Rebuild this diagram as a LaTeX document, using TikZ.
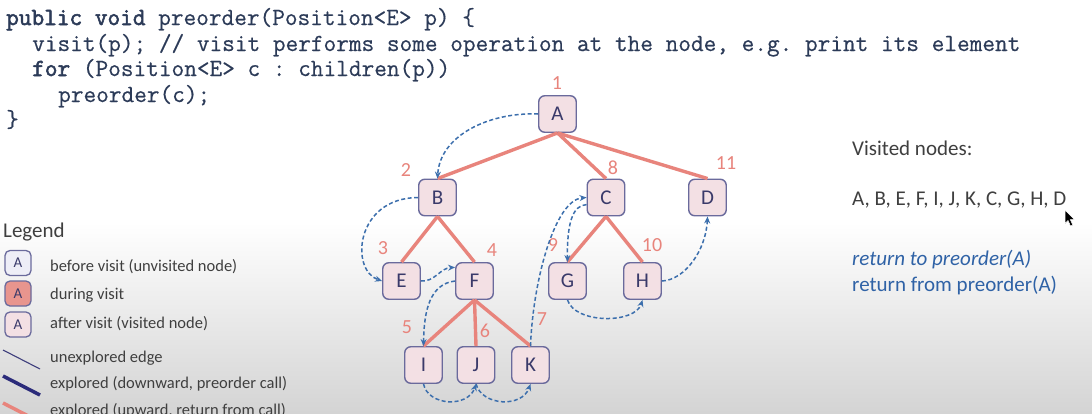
\documentclass[tikz,border=0pt]{standalone}
\usepackage{fontspec}
\setmainfont{Carlito}
\newfontfamily\codefont[FakeBold=0.5, BoldFont={Latin Modern Mono}, BoldFeatures={FakeBold=2.2}]{Latin Modern Mono}
\usetikzlibrary{arrows.meta}
\frenchspacing

\definecolor{codeink}{HTML}{2C3B58}
\definecolor{edgered}{HTML}{E8847C}
\definecolor{callblue}{HTML}{3C6FAD}
\definecolor{nodefill}{HTML}{F3E0E4}
\definecolor{nodeline}{HTML}{6A6A9C}
\definecolor{nodeink}{HTML}{3A3A6A}
\definecolor{freshfill}{HTML}{EEEEF7}
\definecolor{activefill}{HTML}{E8958E}
\definecolor{textgray}{HTML}{3F3F3F}
\definecolor{noteblue}{HTML}{2F62A6}
\definecolor{navyedge}{HTML}{2B2B7A}
\definecolor{thinnavy}{HTML}{3E3E7C}
\definecolor{bggray}{HTML}{D4D4D4}

\tikzset{
  treenode/.style={draw=nodeline, line width=1.4pt, fill=nodefill, rounded corners=6pt,
    minimum width=37.5pt, minimum height=36.5pt, inner sep=0pt, text=nodeink,
    font=\fontsize{21}{21}\selectfont},
  legendbox/.style={draw=nodeline, line width=1.3pt, rounded corners=5pt,
    minimum width=26pt, minimum height=25pt, inner sep=0pt, text=nodeink,
    font=\fontsize{15}{15}\selectfont},
  treeedge/.style={draw=edgered, line width=3.4pt},
  call/.style={draw=callblue, line width=1.5pt, dash pattern=on 4pt off 2.5pt,
    -{Stealth[length=7pt,width=6pt]}},
  order/.style={text=edgered, inner sep=0pt, font=\fontsize{20}{20}\selectfont},
  codeline/.style={anchor=base west, inner sep=0pt, text=codeink,
    font=\codefont\fontsize{24.6}{24.6}\selectfont},
  legendtext/.style={anchor=base west, inner sep=0pt, text=textgray,
    font=\fontsize{16.5}{16.5}\selectfont},
  sidetext/.style={anchor=base west, inner sep=0pt, text=textgray,
    font=\fontsize{21}{21}\selectfont},
}

\begin{document}
\begin{tikzpicture}[x=1pt,y=-1pt]
\useasboundingbox (0,0) rectangle (1092,413);
\clip (0,0) rectangle (1092,413);

% slide background
\fill[white] (0,0) rectangle (1092,413);
\shade[top color=white, bottom color=bggray] (0,222) rectangle (1092,413);

% source code
\node[codeline] (c1) at (6,25)    {\textbf{public void} preorder(Position<E> p) \{};
\node[codeline] (c2) at (32,51)   {visit(p); // visit performs some operation at the node, e.g. print its element};
\node[codeline] (c3) at (32,76)   {\textbf{for} (Position<E> c : children(p))};
\node[codeline] (c4) at (58,102)  {preorder(c);};
\node[codeline] (c5) at (6,127)   {\}};

% tree nodes
\node[treenode] (A) at (557.5,114) {A};
\node[treenode] (B) at (437.5,197.5) {B};
\node[treenode] (C) at (606,197.5) {C};
\node[treenode] (D) at (707.5,197.5) {D};
\node[treenode] (E) at (401.5,281) {E};
\node[treenode] (F) at (474.5,281) {F};
\node[treenode] (G) at (567.5,281) {G};
\node[treenode] (H) at (642.5,281) {H};
\node[treenode] (I) at (423.5,365) {I};
\node[treenode] (J) at (476,365) {J};
\node[treenode] (K) at (530.5,365) {K};

% tree edges
\draw[treeedge] (A.south) -- (B.north);
\draw[treeedge] (A.south) -- (C.north);
\draw[treeedge] (A.south) -- (D.north);
\draw[treeedge] (B.south) -- (E.north);
\draw[treeedge] (B.south) -- (F.north);
\draw[treeedge] (C.south) -- (G.north);
\draw[treeedge] (C.south) -- (H.north);
\draw[treeedge] (F.south) -- (I.north);
\draw[treeedge] (F.south) -- (J.north);
\draw[treeedge] (F.south) -- (K.north);

% visit order
\node[order] (n1)  at (557,83)  {1};
\node[order] (n2)  at (406,170) {2};
\node[order] (n3)  at (383,248) {3};
\node[order] (n4)  at (492,250) {4};
\node[order] (n5)  at (407,327) {5};
\node[order] (n6)  at (485,331) {6};
\node[order] (n7)  at (542,319) {7};
\node[order] (n8)  at (613,168) {8};
\node[order] (n9)  at (553,245) {9};
\node[order] (n10) at (652,245) {10};
\node[order] (n11) at (726,163) {11};

% traversal path
\draw[call] (A.west) .. controls (490,112) and (440,135) .. (B.north);
\draw[call] (B.west) .. controls (355,198) and (350,270) .. (E.west);
\draw[call] (E.east) .. controls (435,282) and (440,268) .. (F.145);
\draw[call] (F.west) .. controls (430,284) and (424,310) .. (I.north);
\draw[call] (I.south) .. controls (428,406) and (468,408) .. (J.south);
\draw[call] (J.south) .. controls (482,406) and (522,408) .. (K.south);
\draw[call] (K.north) .. controls (533,280) and (555,200) .. (C.west);
\draw[call] (C.200) .. controls (572,205) and (567,225) .. (G.north);
\draw[call] (G.south) .. controls (575,324) and (635,324) .. (H.south);
\draw[call] (H.east) .. controls (685,280) and (706,250) .. (D.south);

% legend
\node[anchor=base west, inner sep=0pt, text=textgray, font=\fontsize{21}{21}\selectfont] (lg) at (3,237) {Legend};
\node[legendbox, fill=freshfill]  (lb1) at (18,263)   {A};
\node[legendbox, fill=activefill] (lb2) at (18,293.5) {A};
\node[legendbox, fill=nodefill]   (lb3) at (18,324.5) {A};
\node[legendtext] (lt1) at (50,271) {before visit (unvisited node)};
\node[legendtext] (lt2) at (50,299) {during visit};
\node[legendtext] (lt3) at (50,328) {after visit (visited node)};
\coordinate (le1a) at (3,350);  \coordinate (le1b) at (40,369);
\coordinate (le2a) at (3,376);  \coordinate (le2b) at (40,395);
\coordinate (le3a) at (3,403);  \coordinate (le3b) at (40,422);
\draw[draw=thinnavy, line width=1.1pt] (le1a) -- (le1b);
\draw[draw=navyedge, line width=3.5pt] (le2a) -- (le2b);
\draw[draw=edgered, line width=3.5pt] (le3a) -- (le3b);
\node[legendtext] (lt4) at (50,362) {unexplored edge};
\node[legendtext] (lt5) at (50,388) {explored (downward, preorder call)};
\node[legendtext] (lt6) at (50,415) {explored (upward, return from call)};

% visited list and call status
\node[sidetext] (vh) at (852,155) {Visited nodes:};
\node[sidetext] (vl) at (852,205) {A, B, E, F, I, J, K, C, G, H, D};
\node[sidetext, text=noteblue, font=\itshape\fontsize{21}{21}\selectfont] (s1) at (852,265) {return to preorder(A)};
\node[sidetext, text=noteblue] (s2) at (852,291) {return from preorder(A)};

% mouse pointer
\filldraw[fill=black, draw=white, line width=0.5pt]
  (1065,210) -- (1065,223.5) -- (1068,220.5) -- (1070.5,226) -- (1072.8,225) -- (1070.3,219.6) -- (1074.5,219.6) -- cycle;
\end{tikzpicture}
\end{document}
